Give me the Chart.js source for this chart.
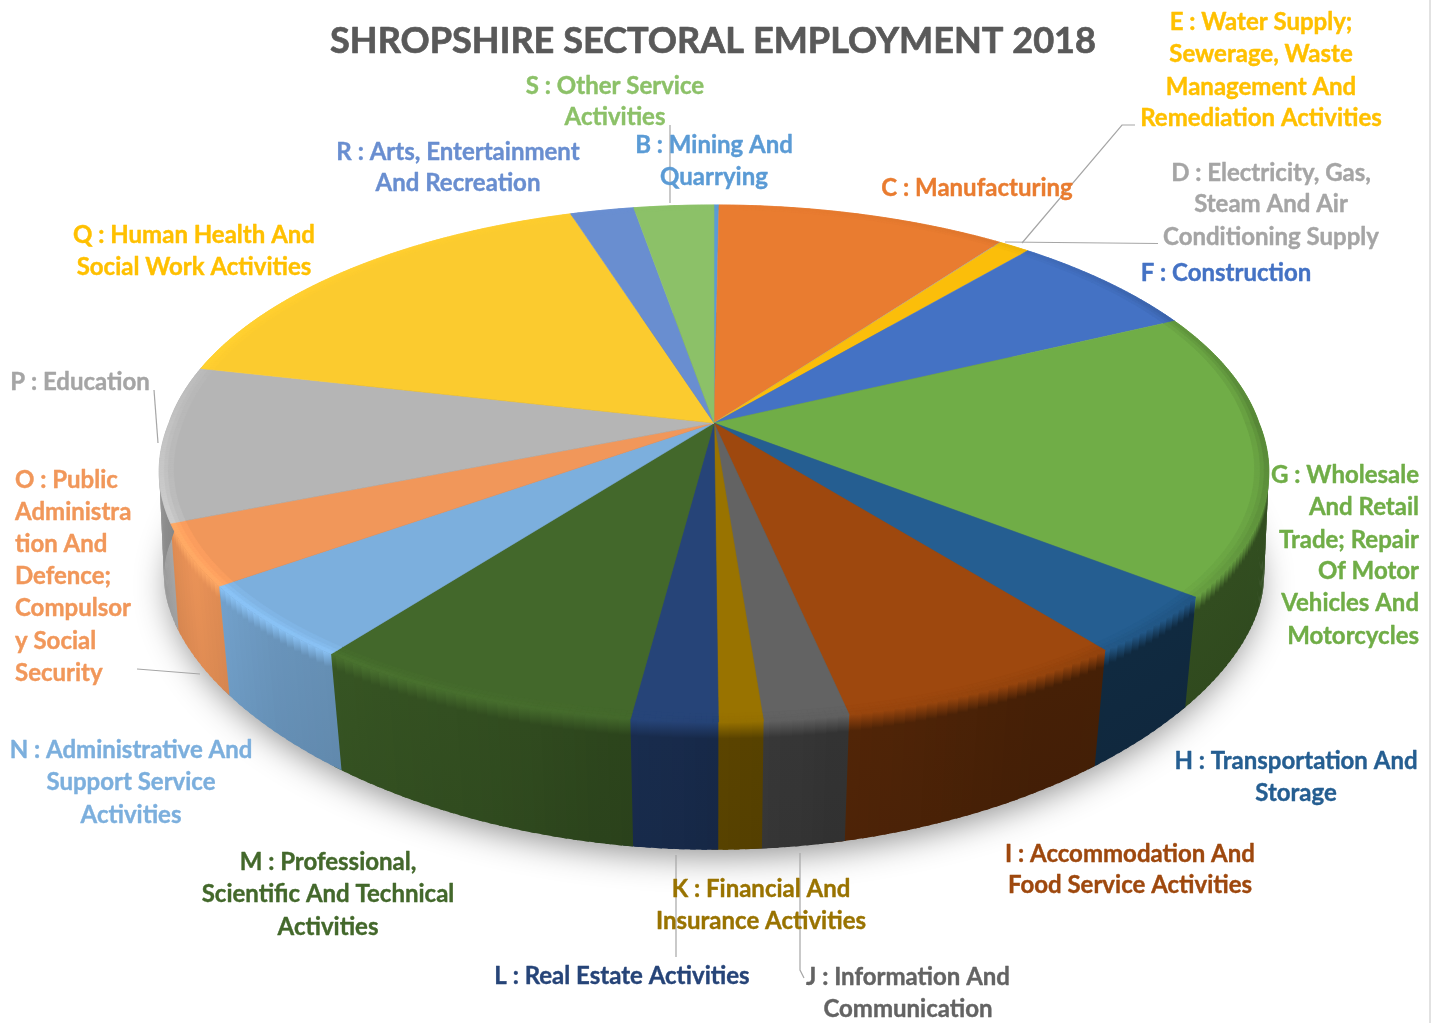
<!DOCTYPE html>
<html>
<head>
<meta charset="utf-8">
<title>Shropshire Sectoral Employment 2018</title>
<script src="https://cdn.jsdelivr.net/npm/chart.js@4"></script>
<style>
  html, body { margin: 0; padding: 0; background: #fff; }
  canvas { display: block; filter: blur(0.5px); }
</style>
</head>
<body>
<canvas id="pieChart" width="1442" height="1023"></canvas>
<script>
const chartTitle = 'SHROPSHIRE SECTORAL EMPLOYMENT 2018';

// labels, one inner array per wedge, wrapped like the original
const sectorLabels = [
    ['B : Mining And', 'Quarrying'],
    ['C : Manufacturing'],
    ['D : Electricity, Gas,', 'Steam And Air', 'Conditioning Supply'],
    ['E : Water Supply;', 'Sewerage, Waste', 'Management And', 'Remediation Activities'],
    ['F : Construction'],
    ['G : Wholesale', 'And Retail', 'Trade; Repair', 'Of Motor', 'Vehicles And', 'Motorcycles'],
    ['H : Transportation And', 'Storage'],
    ['I : Accommodation And', 'Food Service Activities'],
    ['J : Information And', 'Communication'],
    ['K : Financial And', 'Insurance Activities'],
    ['L : Real Estate Activities'],
    ['M : Professional,', 'Scientific And Technical', 'Activities'],
    ['N : Administrative And', 'Support Service', 'Activities'],
    ['O : Public', 'Administra', 'tion And', 'Defence;', 'Compulsor', 'y Social', 'Security'],
    ['P : Education'],
    ['Q : Human Health And', 'Social Work Activities'],
    ['R : Arts, Entertainment', 'And Recreation'],
    ['S : Other Service', 'Activities']
];

// share of employment in percent
const sectorShares = [0.17, 9.89, 0.03, 1.06, 6.75, 17.81, 3.78, 7.25, 2.08, 1.08, 2.11, 8.22, 4.78, 3.89, 9.7, 16.52, 2.17, 2.72];

const sectorColors = ['#5B9BD5', '#E97C30', '#A5A5A5', '#FBBE0A', '#4472C4', '#70AD47', '#255E91', '#9E480E', '#636363', '#997300', '#264478', '#43682B', '#7CAFDD', '#F1975A', '#B5B5B5', '#FBCB2F', '#698ED0', '#8CC168'];
const labelColors = ['#5B9BD5', '#E97C30', '#A5A5A5', '#FFC000', '#4472C4', '#70AD47', '#255E91', '#9E480E', '#636363', '#997300', '#264478', '#43682B', '#7CAFDD', '#F1975A', '#A5A5A5', '#FFC000', '#698ED0', '#8CC168'];

// where each label block sits: anchor x, align, y of each line
const labelPlaces = [
    [714, 'center', [145, 177]],
    [977, 'center', [188]],
    [1271, 'center', [173, 204, 237]],
    [1261, 'center', [22, 54, 87, 118]],
    [1226, 'center', [273]],
    [1419, 'right', [475, 507, 540, 571, 603, 636]],
    [1296, 'center', [761, 793]],
    [1130, 'center', [854, 885]],
    [908, 'center', [977, 1009]],
    [761, 'center', [889, 921]],
    [622, 'center', [976]],
    [328, 'center', [862, 894, 927]],
    [131, 'center', [750, 782, 815]],
    [15, 'left', [480, 512, 544, 576, 608, 641, 673]],
    [80, 'center', [382]],
    [194, 'center', [235, 267]],
    [458, 'center', [152, 183]],
    [615, 'center', [86, 117]]
];

// leader lines
const leaders = [
    [[1135, 125], [1122, 125], [1022, 243]],
    [[1158, 243.5], [1005, 242]],
    [[670, 125], [670, 203]],
    [[154, 390], [158, 443]],
    [[137, 669], [200, 674]],
    [[676, 855], [676, 957]],
    [[800, 853], [800, 970], [804, 978]]
];

// how dark the side wall is and how the rim is lit, by angle clockwise from the top
const wallShade = [[0, 0.5], [60, 0.46], [150, 0.44], [170, 0.52], [180, 0.6], [200, 0.74], [225, 0.85], [240, 0.97], [252, 0.9], [265, 0.8], [360, 0.5]];
const rimLight = [[0, 1], [40, 0.95], [90, 0.78], [130, 0.92], [180, 0.98], [215, 1.1], [250, 1.13], [285, 1.03], [360, 1]];

// perspective disc, top face and bottom face
// widen: extra width toward the viewer, lift: how far the bottom rim is pulled up at the sides
const topFace = { cx: 714, cy: 423, a: 545, b: 252.2, k: 0.1567, widen: 0.032, lift: 0 };
const bottomFace = { cx: 714, cy: 541, a: 543, b: 264, k: 0.145, widen: 0.015, lift: 62 };

function project(face, deg, r) {
    const t = deg * Math.PI / 180;
    const u = Math.sin(t) * r;
    const v = -Math.cos(t) * r;
    const w = 1 - face.k * v;
    const front = Math.max(0, v);
    return [
        face.cx + face.a * u / w * (1 + face.widen * front),
        face.cy + face.b * v / w - face.lift * front * (1 - front)
    ];
}

function lookup(table, deg) {
    for (let i = 1; i < table.length; i++) {
        if (deg <= table[i][0]) {
            const p = (deg - table[i - 1][0]) / (table[i][0] - table[i - 1][0]);
            return table[i - 1][1] + (table[i][1] - table[i - 1][1]) * p;
        }
    }
    return table[table.length - 1][1];
}

function shade(hex, f) {
    const n = parseInt(hex.slice(1), 16);
    const c = [n >> 16, (n >> 8) & 255, n & 255].map(x => Math.min(255, Math.round(x * f)));
    return 'rgb(' + c.join(',') + ')';
}

function fillPoly(ctx, pts, style, edge) {
    ctx.beginPath();
    pts.forEach((p, i) => i ? ctx.lineTo(p[0], p[1]) : ctx.moveTo(p[0], p[1]));
    ctx.closePath();
    ctx.fillStyle = style;
    ctx.fill();
    if (edge) {
        ctx.strokeStyle = style;
        ctx.lineWidth = 0.6;
        ctx.stroke();
    }
}

// the 3D disc is painted from the angles of the library's own arc elements
const disc3d = {
    id: 'disc3d',
    beforeDatasetsDraw(chart) {
        const ctx = chart.ctx;
        const arcs = chart.getDatasetMeta(0).data;
        const spans = arcs.map((arc, i) => ({
            from: (arc.startAngle + Math.PI / 2) * 180 / Math.PI,
            to: (arc.endAngle + Math.PI / 2) * 180 / Math.PI,
            color: sectorColors[i]
        }));

        // soft shadow under the disc
        ctx.save();
        ctx.shadowColor = 'rgba(0,0,0,0.45)';
        ctx.shadowBlur = 34;
        ctx.shadowOffsetY = 10;
        const outline = [];
        for (let d = 0; d < 360; d += 3) outline.push(project(bottomFace, d, 0.99));
        fillPoly(ctx, outline, '#555');
        ctx.restore();

        // side wall, each quad runs a little under the next one to hide seams
        spans.forEach(s => {
            for (let d = s.from; d < s.to; d += 1) {
                const e = d + 1.5;
                const mid = d + 0.5;
                if (mid < 80 || mid > 285) continue;
                const a = project(topFace, d, 1), b = project(topFace, e, 1);
                const c = project(bottomFace, e, 1), f = project(bottomFace, d, 1);
                const g = ctx.createLinearGradient(0, (a[1] + b[1]) / 2, 0, (c[1] + f[1]) / 2);
                const wall = lookup(wallShade, mid);
                g.addColorStop(0, shade(s.color, lookup(rimLight, mid)));
                g.addColorStop(0.13, shade(s.color, wall));
                g.addColorStop(1, shade(s.color, wall * 0.96));
                fillPoly(ctx, [a, b, c, f], g);
            }
        });

        // top face
        spans.forEach(s => {
            const pts = [[topFace.cx, topFace.cy]];
            for (let d = s.from; d < s.to; d += 0.5) pts.push(project(topFace, d, 1));
            pts.push(project(topFace, s.to, 1));
            fillPoly(ctx, pts, s.color, true);
        });

        // rim bevel, fades from the face colour out to the lit edge
        const bands = [[0.975, 0.985, 0.33], [0.985, 0.992, 0.66], [0.992, 1, 1]];
        spans.forEach(s => {
            bands.forEach(band => {
                const f = band[2];
                for (let d = s.from; d < s.to; d += 0.5) {
                    const e = Math.min(d + 0.5, s.to);
                    const light = 1 + (lookup(rimLight, (d + e) / 2) - 1) * f;
                    fillPoly(ctx, [project(topFace, d, band[0]), project(topFace, e, band[0]), project(topFace, e, band[1]), project(topFace, d, band[1])], shade(s.color, light), true);
                }
            });
        });
        return false;
    },
    afterDraw(chart) {
        const ctx = chart.ctx;
        ctx.save();

        // edge of the pasted picture
        ctx.fillStyle = '#e2e2e2';
        ctx.fillRect(1429, 0, 2, 1023);

        ctx.strokeStyle = '#a6a6a6';
        ctx.lineWidth = 1.2;
        leaders.forEach(line => {
            ctx.beginPath();
            line.forEach((p, i) => i ? ctx.lineTo(p[0], p[1]) : ctx.moveTo(p[0], p[1]));
            ctx.stroke();
        });

        // text gets a hairline stroke, the original is heavier than Lato bold
        ctx.textBaseline = 'middle';
        ctx.lineJoin = 'round';
        ctx.font = 'bold 37px Lato';
        ctx.fillStyle = '#595959';
        ctx.strokeStyle = '#595959';
        ctx.lineWidth = 0.7;
        ctx.textAlign = 'center';
        ctx.fillText(chartTitle, 713, 41, 766);
        ctx.strokeText(chartTitle, 713, 41, 766);

        ctx.font = 'bold 24px Lato';
        ctx.lineWidth = 0.4;
        sectorLabels.forEach((lines, i) => {
            const place = labelPlaces[i];
            ctx.fillStyle = labelColors[i];
            ctx.strokeStyle = labelColors[i];
            ctx.textAlign = place[1];
            lines.forEach((text, j) => {
                ctx.fillText(text, place[0], place[2][j]);
                ctx.strokeText(text, place[0], place[2][j]);
            });
        });
        ctx.restore();
    }
};

new Chart(document.getElementById('pieChart'), {
    type: 'pie',
    data: {
        labels: sectorLabels,
        datasets: [{
            data: sectorShares,
            backgroundColor: sectorColors,
            borderWidth: 0
        }]
    },
    options: {
        responsive: false,
        animation: false,
        plugins: {
            legend: { display: false },
            tooltip: { enabled: false }
        }
    },
    plugins: [disc3d]
});
</script>
</body>
</html>
